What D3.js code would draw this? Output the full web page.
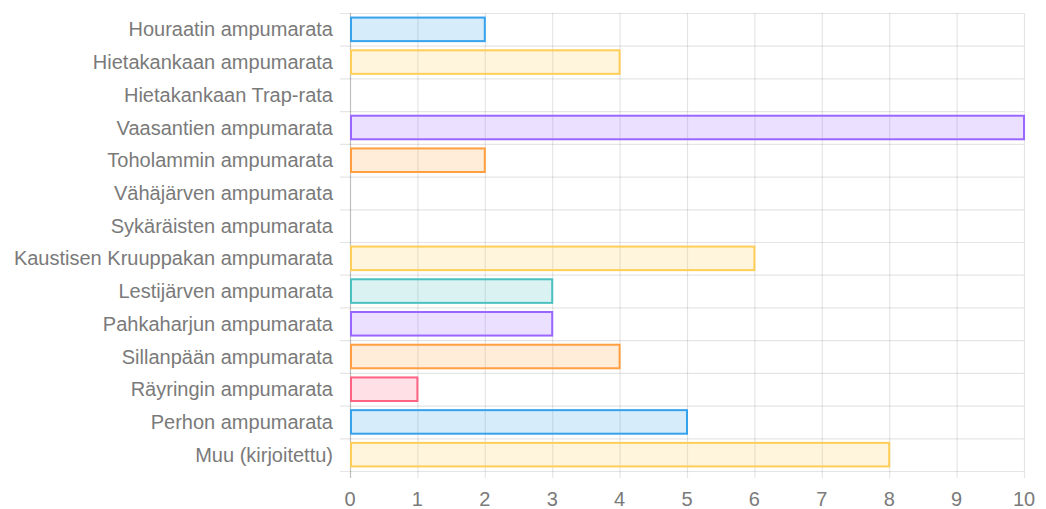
<!DOCTYPE html>
<html>
<head>
<meta charset="utf-8">
<script src="https://cdn.jsdelivr.net/npm/d3@7"></script>
<style>
  body { margin: 0; background: #fff; }
  svg { display: block; font-family: "Liberation Sans", Arial, sans-serif; }
</style>
</head>
<body>
<div id="chart"></div>
<script>
const categories = [
    "Houraatin ampumarata",
    "Hietakankaan ampumarata",
    "Hietakankaan Trap-rata",
    "Vaasantien ampumarata",
    "Toholammin ampumarata",
    "Vähäjärven ampumarata",
    "Sykäräisten ampumarata",
    "Kaustisen Kruuppakan ampumarata",
    "Lestijärven ampumarata",
    "Pahkaharjun ampumarata",
    "Sillanpään ampumarata",
    "Räyringin ampumarata",
    "Perhon ampumarata",
    "Muu (kirjoitettu)"
];
const values = [2, 4, 0, 10, 2, 0, 0, 6, 3, 3, 4, 1, 5, 8];
const xTicks = [0, 1, 2, 3, 4, 5, 6, 7, 8, 9, 10];

// colour cycle, same as the original chart
const palette = [
    [54, 162, 235],
    [255, 206, 86],
    [75, 192, 192],
    [153, 102, 255],
    [255, 159, 64],
    [255, 99, 132]
];

const width = 1046;
const height = 509;
const margin = { top: 13, right: 22, bottom: 38, left: 350 };
const textColor = "#7a7a7a";
const gridColor = "rgba(0,0,0,0.1)";

const svg = d3.select("#chart")
    .append("svg")
    .attr("width", width)
    .attr("height", height);

const x = d3.scaleLinear()
    .domain([0, 10])
    .range([margin.left, width - margin.right]);

const y = d3.scaleBand()
    .domain(categories)
    .range([margin.top, height - margin.bottom])
    .paddingInner(0.28)
    .paddingOuter(0.14);

const step = y.step();
const y0 = margin.top;
const y1 = height - margin.bottom;

// vertical grid lines (with tick marks below the plot)
svg.append("g")
    .selectAll("line")
    .data(xTicks)
    .enter()
    .append("line")
    .attr("x1", d => x(d) + 0.5)
    .attr("x2", d => x(d) + 0.5)
    .attr("y1", y0)
    .attr("y2", y1 + 7)
    .attr("stroke", d => d === 0 ? "rgba(0,0,0,0.25)" : gridColor)
    .attr("stroke-width", 1.2);

// horizontal grid lines at category boundaries
const rows = d3.range(categories.length + 1);
svg.append("g")
    .selectAll("line")
    .data(rows)
    .enter()
    .append("line")
    .attr("x1", margin.left - 10)
    .attr("x2", x(10))
    .attr("y1", d => y0 + d * step + 0.5)
    .attr("y2", d => y0 + d * step + 0.5)
    .attr("stroke", gridColor)
    .attr("stroke-width", 1.2);

// bars
const data = categories.map((c, i) => ({ label: c, value: values[i], color: palette[i % palette.length] }));

svg.append("g")
    .selectAll("rect")
    .data(data.filter(d => d.value > 0))
    .enter()
    .append("rect")
    .attr("x", x(0) + 1)
    .attr("y", d => y(d.label))
    .attr("width", d => x(d.value) - x(0) - 1)
    .attr("height", y.bandwidth())
    .attr("fill", d => `rgba(${d.color.join(",")},0.2)`)
    .attr("stroke", d => `rgb(${d.color.join(",")})`)
    .attr("stroke-width", 2);

// category labels
svg.append("g")
    .selectAll("text")
    .data(categories)
    .enter()
    .append("text")
    .attr("x", margin.left - 17)
    .attr("y", d => y(d) + y.bandwidth() / 2)
    .attr("dy", "0.35em")
    .attr("text-anchor", "end")
    .attr("fill", textColor)
    .attr("font-size", "20px")
    .text(d => d);

// x tick labels
svg.append("g")
    .selectAll("text")
    .data(xTicks)
    .enter()
    .append("text")
    .attr("x", d => x(d))
    .attr("y", y1 + 28)
    .attr("dy", "0.35em")
    .attr("text-anchor", "middle")
    .attr("fill", textColor)
    .attr("font-size", "20px")
    .text(d => d);
</script>
</body>
</html>
